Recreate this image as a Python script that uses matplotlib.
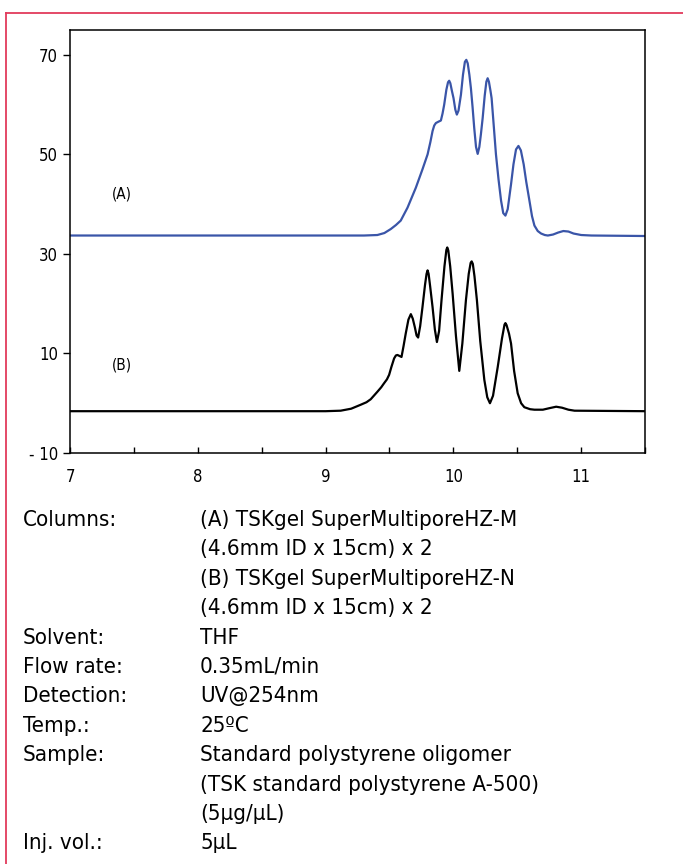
import matplotlib
matplotlib.use('Agg')
import matplotlib.pyplot as plt
from matplotlib.lines import Line2D

plt.rcParams['font.family'] = ['DejaVu Sans']
plt.rcParams['font.stretch'] = 'condensed'

# retention time (min) / signal
time_a = [7.0, 9.0, 9.3, 9.405, 9.46, 9.51, 9.55, 9.588, 9.641, 9.706, 9.758,
          9.798, 9.82, 9.837, 9.85, 9.863, 9.885, 9.902, 9.915, 9.928, 9.945,
          9.958, 9.967, 9.976, 9.988, 10.001, 10.015, 10.027, 10.04, 10.059,
          10.075, 10.09, 10.101, 10.112, 10.125, 10.137, 10.15, 10.163, 10.177,
          10.19, 10.203, 10.215, 10.229, 10.245, 10.258, 10.268, 10.278, 10.29,
          10.299, 10.315, 10.333, 10.353, 10.373, 10.39, 10.407, 10.425, 10.438,
          10.451, 10.47, 10.49, 10.509, 10.528, 10.55, 10.57, 10.595, 10.615,
          10.634, 10.66, 10.686, 10.715, 10.739, 10.78, 10.82, 10.86, 10.9,
          10.94, 11.0, 11.08, 11.5]
signal_a = [33.7, 33.7, 33.7, 33.8, 34.2, 35.0, 35.8, 36.7, 39.3, 43.3, 47.0,
            50.0, 52.5, 54.7, 55.8, 56.3, 56.6, 56.8, 58.2, 60.0, 63.0,
            64.5, 64.8, 64.3, 62.8, 61.3, 59.0, 58.0, 58.8, 62.0,
            66.0, 68.6, 69.0, 68.3, 66.0, 63.3, 59.5, 55.3, 51.5,
            50.1, 51.5, 54.0, 57.3, 61.8, 64.6, 65.3, 64.6, 62.8,
            61.3, 56.0, 50.0, 45.0, 40.7, 38.2, 37.7, 39.0, 41.5,
            44.0, 48.0, 51.0, 51.7, 50.8, 48.0, 44.5, 40.7, 37.6,
            35.7, 34.6, 34.1, 33.8, 33.7, 33.9, 34.3, 34.6, 34.5,
            34.1, 33.8, 33.7, 33.6]

time_b = [7.0, 9.0, 9.118, 9.2, 9.275, 9.32, 9.353, 9.405, 9.435, 9.457, 9.48,
          9.497, 9.515, 9.536, 9.55, 9.562, 9.578, 9.594, 9.61, 9.627, 9.648,
          9.667, 9.682, 9.698, 9.712, 9.724, 9.74, 9.758, 9.778, 9.79, 9.798,
          9.806, 9.818, 9.837, 9.855, 9.871, 9.888, 9.907, 9.93, 9.945, 9.952,
          9.96, 9.975, 9.994, 10.02, 10.046, 10.07, 10.098, 10.12, 10.135,
          10.143, 10.152, 10.165, 10.184, 10.21, 10.242, 10.265, 10.286, 10.31,
          10.347, 10.38, 10.4, 10.407, 10.416, 10.435, 10.451, 10.475, 10.503,
          10.53, 10.555, 10.6, 10.634, 10.7, 10.75, 10.804, 10.85, 10.9,
          10.948, 11.5]
signal_b = [-1.6, -1.6, -1.5, -1.1, -0.3, 0.2, 0.8, 2.3, 3.2, 4.0, 4.8,
            5.7, 7.3, 9.0, 9.6, 9.7, 9.5, 9.3, 11.5, 14.0, 16.8,
            17.9, 17.0, 15.3, 13.6, 13.2, 15.5, 19.3, 23.8, 26.0, 26.7,
            26.0, 23.5, 19.3, 14.8, 12.3, 14.5, 20.7, 27.5, 30.8, 31.3,
            30.7, 27.5, 22.0, 13.5, 6.5, 12.0, 20.7, 26.0, 28.2,
            28.5, 28.0, 25.5, 20.7, 12.5, 4.7, 1.2, 0.0, 1.5,
            7.3, 13.0, 15.8, 16.1, 15.7, 14.0, 12.0, 6.5, 2.0,
            0.0, -0.8, -1.2, -1.3, -1.3, -1.0, -0.7, -0.9, -1.3,
            -1.5, -1.6]

x_ticks = [7, 8, 9, 10, 11]
x_minor = [7.5, 8.5, 9.5, 10.5, 11.5]
y_ticks = [70, 50, 30, 10, -10]
y_labels = ['70', '50', '30', '10', '- 10']

conditions = [
    ('Columns:', '(A) TSKgel SuperMultiporeHZ-M'),
    ('', '(4.6mm ID x 15cm) x 2'),
    ('', '(B) TSKgel SuperMultiporeHZ-N'),
    ('', '(4.6mm ID x 15cm) x 2'),
    ('Solvent:', 'THF'),
    ('Flow rate:', '0.35mL/min'),
    ('Detection:', 'UV@254nm'),
    ('Temp.:', '25ºC'),
    ('Sample:', 'Standard polystyrene oligomer'),
    ('', '(TSK standard polystyrene A-500)'),
    ('', '(5µg/µL)'),
    ('Inj. vol.:', '5µL'),
]

fig = plt.figure(figsize=(6.83, 8.64), dpi=100)
ax = fig.add_axes([0.1025, 0.4757, 0.842, 0.4896])

ax.plot(time_a, signal_a, color='#3a55a8', lw=1.6)
ax.plot(time_b, signal_b, color='black', lw=1.6)

ax.text(7.33, 42, '(A)', fontsize=11, va='center')
ax.text(7.33, 7.6, '(B)', fontsize=11, va='center')

ax.set_xlim(7, 11.5)
ax.set_ylim(-10, 75)
ax.set_xticks(x_ticks)
ax.set_xticks(x_minor, minor=True)
ax.set_yticks(y_ticks)
ax.set_yticklabels(y_labels)
ax.tick_params(axis='x', which='both', direction='in', length=4, width=1,
               labelsize=12, pad=11)
ax.tick_params(axis='y', direction='out', length=5, width=1, labelsize=12)
for s in ax.spines.values():
    s.set_linewidth(1.1)

# red frame
red = '#e23a5c'
fig.add_artist(Line2D([6/683, 1], [1 - 13/864, 1 - 13/864], color=red, lw=1.3,
                      transform=fig.transFigure))
fig.add_artist(Line2D([6/683, 6/683], [0, 1 - 13/864], color=red, lw=1.3,
                      transform=fig.transFigure))

y0 = 520
step = 29.4
for i, (key, val) in enumerate(conditions):
    y = 1 - (y0 + i * step) / 864
    if key:
        fig.text(23/683, y, key, fontsize=16, va='center')
    fig.text(200/683, y, val, fontsize=16, va='center')

fig.savefig('out.png', dpi=100)
